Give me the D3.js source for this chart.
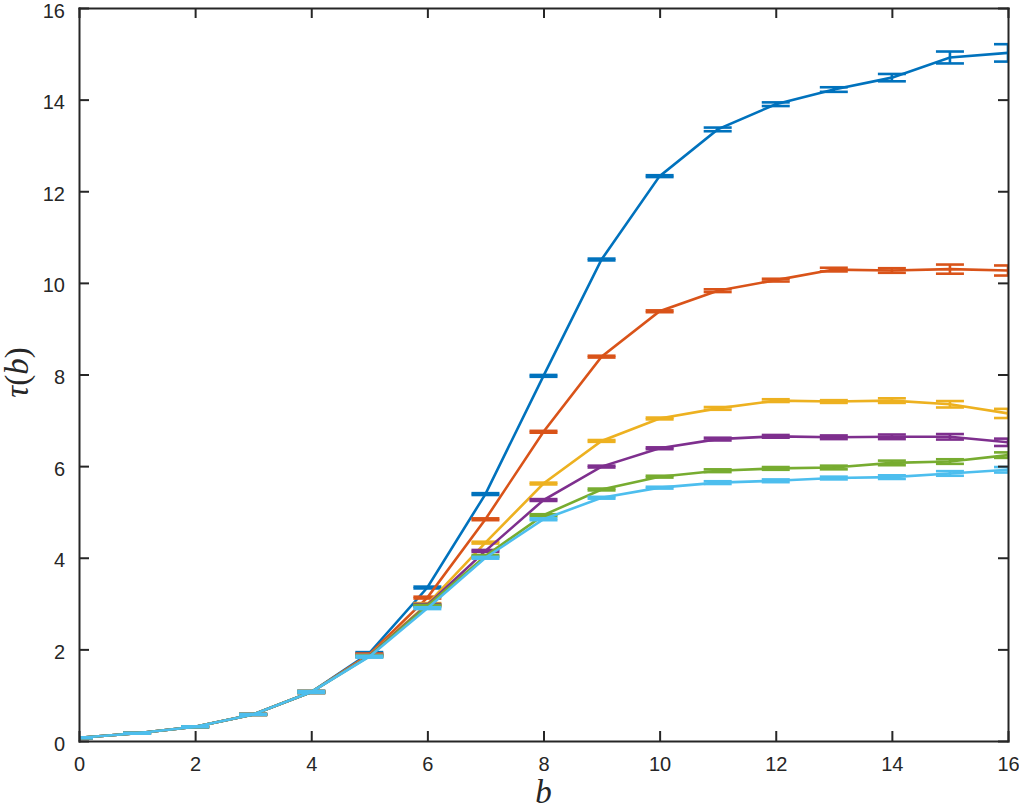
<!DOCTYPE html>
<html>
<head>
<meta charset="utf-8">
<script src="https://cdn.jsdelivr.net/npm/d3@7"></script>
<style>
  body { margin: 0; background: #fff; }
  svg { display: block; }
  .axis text { font-family: "Liberation Sans", Arial, sans-serif; font-size: 20px; fill: #262626; }
  .axis path, .axis line { stroke: #262626; stroke-width: 2px; }
</style>
</head>
<body>
<svg width="1019" height="809"></svg>
<script>
// b values (x)
const bValues = [0, 1, 2, 3, 4, 5, 6, 7, 8, 9, 10, 11, 12, 13, 14, 15, 16];

// tau(b) means, one list per curve
const tau1 = [0.07, 0.17, 0.31, 0.58, 1.07, 1.92, 3.35, 5.39, 7.97, 10.51, 12.33, 13.35, 13.9, 14.22, 14.48, 14.92, 15.02];
const tau2 = [0.07, 0.17, 0.31, 0.58, 1.07, 1.89, 3.13, 4.84, 6.75, 8.39, 9.38, 9.83, 10.06, 10.29, 10.27, 10.3, 10.27];
const tau3 = [0.07, 0.17, 0.31, 0.58, 1.07, 1.87, 2.99, 4.33, 5.62, 6.55, 7.04, 7.26, 7.43, 7.41, 7.43, 7.35, 7.15];
const tau4 = [0.07, 0.17, 0.31, 0.58, 1.07, 1.86, 2.97, 4.15, 5.26, 5.99, 6.39, 6.59, 6.65, 6.63, 6.64, 6.64, 6.52];
const tau5 = [0.07, 0.17, 0.31, 0.58, 1.07, 1.85, 2.95, 4.04, 4.93, 5.49, 5.77, 5.9, 5.95, 5.97, 6.07, 6.1, 6.24];
const tau6 = [0.07, 0.17, 0.31, 0.58, 1.07, 1.84, 2.9, 4.0, 4.84, 5.31, 5.53, 5.64, 5.68, 5.74, 5.76, 5.84, 5.92];

// error bar half-widths
const err1 = [0.01, 0.01, 0.01, 0.01, 0.02, 0.02, 0.02, 0.02, 0.02, 0.02, 0.02, 0.04, 0.04, 0.05, 0.08, 0.13, 0.19];
const err2 = [0.01, 0.01, 0.01, 0.01, 0.02, 0.02, 0.02, 0.02, 0.02, 0.02, 0.02, 0.03, 0.03, 0.04, 0.05, 0.1, 0.11];
const err3 = [0.01, 0.01, 0.01, 0.01, 0.02, 0.02, 0.02, 0.02, 0.02, 0.02, 0.02, 0.03, 0.03, 0.03, 0.05, 0.07, 0.1];
const err4 = [0.01, 0.01, 0.01, 0.01, 0.02, 0.02, 0.02, 0.02, 0.02, 0.02, 0.02, 0.03, 0.03, 0.04, 0.05, 0.06, 0.08];
const err5 = [0.01, 0.01, 0.01, 0.01, 0.02, 0.02, 0.02, 0.02, 0.02, 0.02, 0.02, 0.03, 0.03, 0.04, 0.05, 0.05, 0.06];
const err6 = [0.01, 0.01, 0.01, 0.01, 0.02, 0.02, 0.02, 0.02, 0.02, 0.02, 0.02, 0.03, 0.03, 0.03, 0.04, 0.05, 0.06];

const colors = ["#0072BD", "#D95319", "#EDB120", "#7E2F8E", "#77AC30", "#4DBEEE"];
const xTicks = [0, 2, 4, 6, 8, 10, 12, 14, 16];
const yTicks = [0, 2, 4, 6, 8, 10, 12, 14, 16];

const series = [
  { tau: tau1, err: err1 },
  { tau: tau2, err: err2 },
  { tau: tau3, err: err3 },
  { tau: tau4, err: err4 },
  { tau: tau5, err: err5 },
  { tau: tau6, err: err6 }
];

const svg = d3.select("svg"),
  margin = { top: 8, right: 11, bottom: 68, left: 79 },
  width = +svg.attr("width") - margin.left - margin.right,
  height = +svg.attr("height") - margin.top - margin.bottom,
  g = svg.append("g").attr("transform", `translate(${margin.left},${margin.top})`);

const x = d3.scaleLinear().domain([0, 16]).range([0, width]);
const y = d3.scaleLinear().domain([0, 16]).range([height, 0]);

svg.append("defs").append("clipPath").attr("id", "plot-clip")
  .append("rect").attr("width", width).attr("height", height);

const plot = g.append("g").attr("clip-path", "url(#plot-clip)");

const line = d3.line().x((d) => x(d.b)).y((d) => y(d.v));
const capHalf = 14;

series.forEach((s, i) => {
  const pts = bValues.map((b, j) => ({ b, v: s.tau[j], e: s.err[j] }));
  const sg = plot.append("g").attr("stroke", colors[i]).attr("fill", "none").attr("stroke-width", 2.6);

  sg.append("path").datum(pts).attr("d", line);

  const bars = sg.selectAll(".eb").data(pts).enter().append("g").attr("class", "eb");
  bars.append("line")
    .attr("x1", (d) => x(d.b)).attr("x2", (d) => x(d.b))
    .attr("y1", (d) => y(d.v - d.e)).attr("y2", (d) => y(d.v + d.e));
  bars.append("line")
    .attr("x1", (d) => x(d.b) - capHalf).attr("x2", (d) => x(d.b) + capHalf)
    .attr("y1", (d) => y(d.v - d.e)).attr("y2", (d) => y(d.v - d.e));
  bars.append("line")
    .attr("x1", (d) => x(d.b) - capHalf).attr("x2", (d) => x(d.b) + capHalf)
    .attr("y1", (d) => y(d.v + d.e)).attr("y2", (d) => y(d.v + d.e));
});

// axes, ticks pointing inward on all four sides
g.append("g").attr("class", "axis")
  .attr("transform", `translate(0,${height})`)
  .call(d3.axisBottom(x).tickValues(xTicks).tickSizeInner(-10).tickSizeOuter(0).tickPadding(16));

g.append("g").attr("class", "axis")
  .call(d3.axisLeft(y).tickValues(yTicks).tickSizeInner(-10).tickSizeOuter(0).tickPadding(14))
  .selectAll("text").attr("dy", "0.45em");

g.append("g").attr("class", "axis")
  .call(d3.axisTop(x).tickValues(xTicks).tickSizeInner(-10).tickSizeOuter(0).tickFormat(""));

g.append("g").attr("class", "axis")
  .attr("transform", `translate(${width},0)`)
  .call(d3.axisRight(y).tickValues(yTicks).tickSizeInner(-10).tickSizeOuter(0).tickFormat(""));

g.selectAll(".axis path").attr("stroke-linecap", "square");

// axis labels
svg.append("text")
  .attr("x", margin.left + width / 2)
  .attr("y", 803)
  .attr("text-anchor", "middle")
  .style("font-family", "'Liberation Serif', 'Times New Roman', serif")
  .style("font-style", "italic")
  .style("font-size", "33px")
  .attr("fill", "#262626")
  .text("b");

const yl = svg.append("text")
  .attr("transform", `translate(28,${margin.top + height / 2 - 2}) rotate(-90)`)
  .attr("text-anchor", "middle")
  .style("font-family", "'Liberation Serif', 'Times New Roman', serif")
  .style("font-size", "33px")
  .attr("fill", "#262626");
yl.append("tspan").style("font-style", "italic").text("τ");
yl.append("tspan").text("(");
yl.append("tspan").style("font-style", "italic").text("b");
yl.append("tspan").text(")");
</script>
</body>
</html>
